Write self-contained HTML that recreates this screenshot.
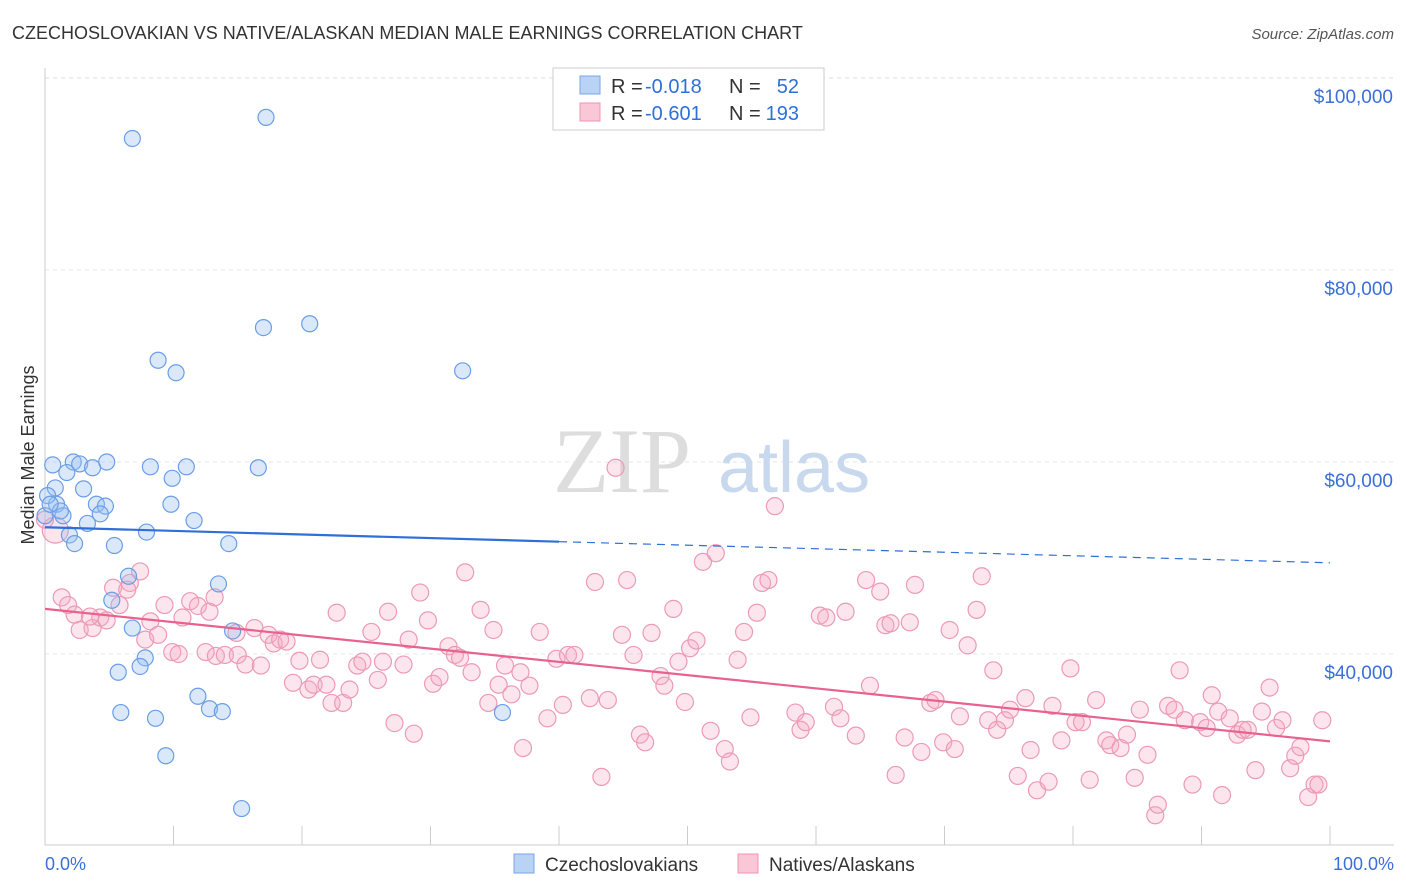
<!DOCTYPE html>
<html><head><meta charset="utf-8">
<style>
body{margin:0;background:#fff;font-family:"Liberation Sans",sans-serif;}
svg{display:block}
</style></head>
<body>
<svg id="chart" width="1406" height="892">
<text x="12" y="39" font-size="18" fill="#333">CZECHOSLOVAKIAN VS NATIVE/ALASKAN MEDIAN MALE EARNINGS CORRELATION CHART</text>
<text x="1394" y="39" font-size="15" fill="#555" font-style="italic" text-anchor="end">Source: ZipAtlas.com</text>
<g id="grid"></g>
<g><text x="553" y="492" font-size="92" fill="#ddd" font-family="Liberation Serif,serif">ZIP</text><text x="718" y="492" font-size="72" fill="#c8d9ee">atlas</text></g>
<line x1="45" y1="68" x2="45" y2="845" stroke="#ccc"/>
<line x1="45" y1="845" x2="1394" y2="845" stroke="#ccc"/>
<g id="xticks"></g>
<g id="ylabels"></g>
<text x="34" y="455" font-size="18" fill="#333" text-anchor="middle" transform="rotate(-90 34 455)">Median Male Earnings</text>
<text x="45" y="870" font-size="18" fill="#3a6fd8">0.0%</text>
<text x="1394" y="870" font-size="18" fill="#3a6fd8" text-anchor="end">100.0%</text>
<g id="pink"></g>
<g id="blue"></g>
<g id="trends"></g>
<g>
<rect x="553" y="68" width="271" height="62" fill="#fff" stroke="#ccc"/>
<rect x="580" y="76" width="20" height="18" fill="#b9d3f5" stroke="#7aa6e6"/>
<rect x="580" y="103" width="20" height="18" fill="#f9c7d6" stroke="#ec94b0"/>
<text x="611" y="93" font-size="20" fill="#333">R = </text><text x="645" y="93" font-size="20" fill="#2f6fd8">-0.018</text>
<text x="729" y="93" font-size="20" fill="#333">N =</text><text x="799" y="93" font-size="20" fill="#2f6fd8" text-anchor="end">52</text>
<text x="611" y="120" font-size="20" fill="#333">R = </text><text x="645" y="120" font-size="20" fill="#2f6fd8">-0.601</text>
<text x="729" y="120" font-size="20" fill="#333">N =</text><text x="799" y="120" font-size="20" fill="#2f6fd8" text-anchor="end">193</text>
</g>
<g>
<rect x="514" y="854" width="20" height="19" fill="#b9d3f5" stroke="#7aa6e6"/>
<text x="545" y="871" font-size="19" fill="#333">Czechoslovakians</text>
<rect x="738" y="854" width="20" height="19" fill="#f9c7d6" stroke="#ec94b0"/>
<text x="769" y="871" font-size="19" fill="#333">Natives/Alaskans</text>
</g>
</svg>
<script>
const yTicks=[100000,80000,60000,40000];
const yTickLabels=["$100,000","$80,000","$60,000","$40,000"];
const xTicks=[0,10,20,30,40,50,60,70,80,90,100];
const blueX=[6.8,17.2,17,20.6,8.8,10.2,32.5,0.6,2.2,2.7,4.8,3.7,1.7,8.2,11,16.6,9.9,0.8,3,0.9,4,9.8,4.7,1.4,4.3,11.6,3.3,7.9,1.9,2.3,5.4,14.3,6.5,13.5,5.2,6.8,7.8,7.4,5.7,11.9,12.8,5.9,13.8,8.6,35.6,9.4,15.3,0,0.2,1.2,14.6,0.4];
const blueY=[93700,95900,74000,74400,70600,69300,69500,59700,60000,59800,60000,59400,58900,59500,59500,59400,58300,57300,57200,55600,55600,55600,55400,54400,54600,53900,53600,52700,52400,51500,51300,51500,48100,47300,45600,42700,39600,38700,38100,35600,34300,33900,34000,33300,33900,29400,23900,54400,56500,54900,42400,55600];
const pinkX=[0.8,1.3,1.8,2.7,3.7,2.3,4.3,4.8,5.8,5.3,6.6,7.4,6.4,8.2,7.8,8.8,9.3,9.9,10.4,10.7,11.3,11.9,12.8,13.2,12.5,13.3,14,14.9,15,15.6,16.3,16.8,17.4,17.8,18.3,18.8,19.3,19.8,20.5,20.9,21.4,21.9,22.3,22.7,23.2,23.7,24.3,24.7,25.4,25.9,26.3,26.7,27.2,27.9,28.3,28.7,29.2,29.8,30.2,30.7,31.4,31.9,32.3,32.7,33.2,33.9,34.5,34.9,35.3,35.8,36.3,37,37.2,37.7,38.5,39.1,39.8,40.3,40.7,41.2,42.4,42.8,43.3,43.8,44.9,45.3,45.8,46.3,46.7,47.2,47.9,48.2,48.9,49.3,49.8,50.2,50.7,51.2,51.8,52.2,52.9,53.3,53.9,54.4,54.9,55.4,55.8,56.3,56.8,58.4,58.8,59.2,60.3,60.8,61.4,61.9,62.3,63.1,63.9,64.2,65,65.4,65.8,66.2,66.9,67.3,67.7,68.2,68.9,69.3,69.9,70.4,70.8,71.2,71.8,72.5,72.9,73.4,73.8,74.1,74.7,75.1,75.7,76.3,76.7,77.2,78.1,78.4,79.1,79.8,80.2,80.7,81.3,81.8,82.6,82.9,83.7,84.2,84.8,85.2,85.8,86.4,86.6,87.4,87.9,88.3,88.7,89.3,89.9,90.4,90.8,91.3,91.6,92.2,92.8,93.2,93.6,94.2,94.7,95.3,95.8,96.3,96.9,97.3,97.7,98.3,98.8,99.1,99.4,44.4,0,3.5];
const pinkY=[52900,45900,45100,42500,42700,44100,43800,43500,45100,46900,47400,48600,46700,43400,41500,42000,45100,40200,40000,43800,45500,45000,44400,45900,40200,39800,39900,42200,39900,38900,42700,38800,42000,41100,41500,41300,37000,39300,36300,36800,39400,36800,34900,44300,34900,36300,38800,39200,42300,37300,39200,44400,32800,38900,41500,31700,46400,43500,36900,37600,40800,39900,39600,48500,38100,44600,34900,42500,36800,38800,35800,38100,30200,36700,42300,33300,39500,34700,39900,39900,35400,47500,27200,35200,42000,47700,39900,31600,30800,42200,37700,36700,44700,39200,35000,40600,41400,49600,32000,50500,30100,28800,39400,42300,33400,44300,47400,47700,55400,33900,32100,32900,44000,43800,34500,33300,44400,31500,47700,36700,46500,43000,43200,27400,31300,43300,47200,29800,34900,35200,30800,42500,30100,33500,40900,44600,48100,33100,38300,32100,33100,34200,27300,35400,30000,25800,26700,34600,31000,38500,32900,32900,26900,35200,31000,30500,30200,31600,27100,34200,29500,23200,24300,34600,34200,38300,33100,26400,32900,32300,35700,34000,25300,33300,31600,32100,32100,27900,34000,36500,32300,33100,28100,29400,30300,25100,26400,26400,33100,59400,54000,43900];
const blueTrend=[53200,51700,49500];
const pinkTrend=[44700,30900];
const NS="http://www.w3.org/2000/svg";
const X0=45,X1=1330,YT=78,YB=845;
function sx(v){return X0+(X1-X0)*v/100;}
function sy(v){return YT+(100000-v)*192/20000;}
function mk(tag,attrs,parent){const e=document.createElementNS(NS,tag);for(const k in attrs)e.setAttribute(k,attrs[k]);parent.appendChild(e);return e;}
const grid=document.getElementById('grid'),yl=document.getElementById('ylabels'),xt=document.getElementById('xticks');
mk('line',{x1:45,x2:1394,y1:YT,y2:YT,stroke:'#ddd','stroke-dasharray':'4,4'},grid);
yTicks.forEach((t,i)=>{
 if(i>0){const l=mk('line',{x1:45,x2:1394,y1:sy(t),y2:sy(t),stroke:'#e4e4e4','stroke-dasharray':'4,4'},grid);
 
 }
 const tx=mk('text',{x:1393,y:sy(t)+25,'font-size':19,fill:'#3a6fd8','text-anchor':'end'},yl);
 tx.textContent=yTickLabels[i];
 
 
});
xTicks.forEach(t=>{const l=mk('line',{x1:sx(t),x2:sx(t),y1:826,y2:845,stroke:'#ccc'},xt);
 
 });
const pg=document.getElementById('pink');
pinkX.forEach((x,i)=>{const c=mk('circle',{cx:sx(x),cy:sy(pinkY[i]),r:(i==0?13:8.5),fill:'rgba(246,170,196,0.3)',stroke:'#ec9ab5','stroke-width':1.2},pg);
 
 });
const bg=document.getElementById('blue');
blueX.forEach((x,i)=>{const c=mk('circle',{cx:sx(x),cy:sy(blueY[i]),r:8,fill:'rgba(150,190,240,0.35)',stroke:'#6a9ee6','stroke-width':1.2},bg);
 
 });
const tg=document.getElementById('trends');
let l1=mk('line',{x1:sx(0),y1:sy(blueTrend[0]),x2:sx(40),y2:sy(blueTrend[1]),stroke:'#2f6fd8','stroke-width':2.2},tg);


let l2=mk('line',{x1:sx(40),y1:sy(blueTrend[1]),x2:sx(100),y2:sy(blueTrend[2]),stroke:'#2f6fd8','stroke-width':1.2,'stroke-dasharray':'8,6'},tg);


let l3=mk('line',{x1:sx(0),y1:sy(pinkTrend[0]),x2:sx(100),y2:sy(pinkTrend[1]),stroke:'#e8628f','stroke-width':2.2},tg);


</script>
</body></html>
